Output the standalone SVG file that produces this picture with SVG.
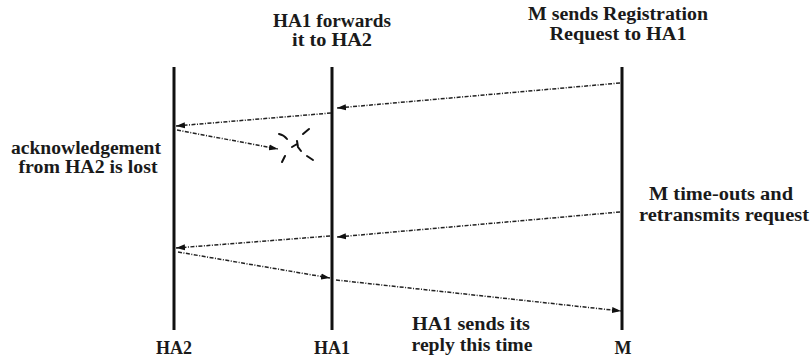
<svg xmlns="http://www.w3.org/2000/svg" width="811" height="360" viewBox="0 0 811 360">
<defs>
<style>
text{font-family:"Liberation Serif","DejaVu Serif",serif;font-weight:bold;font-size:18px;fill:#1a1a1a;text-anchor:middle}
.life{stroke:#111;stroke-width:3;fill:none}
.msg{stroke:#222;stroke-width:1.5;fill:none;stroke-dasharray:4 1.5 1 1.5;marker-end:url(#ah)}
.x{stroke:#111;stroke-width:2;fill:none;stroke-linecap:round}
</style>
<marker id="ah" markerUnits="userSpaceOnUse" markerWidth="10" markerHeight="8" refX="9" refY="4" orient="auto">
<path d="M0,1 L9,4 L0,7 Z" fill="#111"/>
</marker>
</defs>
<rect width="811" height="360" fill="#fff"/>
<g id="HA2">
<line class="life" x1="174" y1="67" x2="174" y2="330"/>
<text x="174" y="354">HA2</text>
</g>
<g id="HA1">
<line class="life" x1="332" y1="67" x2="332" y2="330"/>
<text x="332" y="354">HA1</text>
</g>
<g id="M">
<line class="life" x1="622" y1="67" x2="622" y2="330"/>
<text x="623" y="354">M</text>
</g>
<g id="connectors">
<line class="msg" x1="620" y1="83" x2="337" y2="108"/>
<line class="msg" x1="331" y1="113" x2="176" y2="126"/>
<line class="msg" x1="177" y1="130" x2="278" y2="149"/>
<line class="msg" x1="620" y1="212" x2="337" y2="237"/>
<line class="msg" x1="330" y1="236" x2="176" y2="248"/>
<line class="msg" x1="178" y1="252" x2="330" y2="278"/>
<line class="msg" x1="336" y1="280" x2="621" y2="311"/>
</g>
<g id="lost">
<path class="x" d="M279,134 Q284,135 287,139"/>
<path class="x" d="M303,134 L309,129"/>
<path class="x" d="M292,147 L297,144 M297,141 L298,147 L301,151"/>
<path class="x" d="M282,162 L285,156"/>
<path class="x" d="M307,156 L313,160"/>
</g>
<g id="labels">
<text x="332" y="27" textLength="118" lengthAdjust="spacingAndGlyphs">HA1 forwards</text>
<text x="332" y="46" textLength="80" lengthAdjust="spacingAndGlyphs">it to HA2</text>
<text x="618" y="20" textLength="180" lengthAdjust="spacingAndGlyphs">M sends Registration</text>
<text x="618" y="40" textLength="137" lengthAdjust="spacingAndGlyphs">Request to HA1</text>
<text x="86" y="154" textLength="150" lengthAdjust="spacingAndGlyphs">acknowledgement</text>
<text x="88" y="173" textLength="139" lengthAdjust="spacingAndGlyphs">from HA2 is lost</text>
<text x="721" y="200" textLength="144" lengthAdjust="spacingAndGlyphs">M time-outs and</text>
<text x="724" y="221" textLength="170" lengthAdjust="spacingAndGlyphs">retransmits request</text>
<text x="471" y="330" textLength="118" lengthAdjust="spacingAndGlyphs">HA1 sends its</text>
<text x="472" y="351" textLength="121" lengthAdjust="spacingAndGlyphs">reply this time</text>
</g>
</svg>
